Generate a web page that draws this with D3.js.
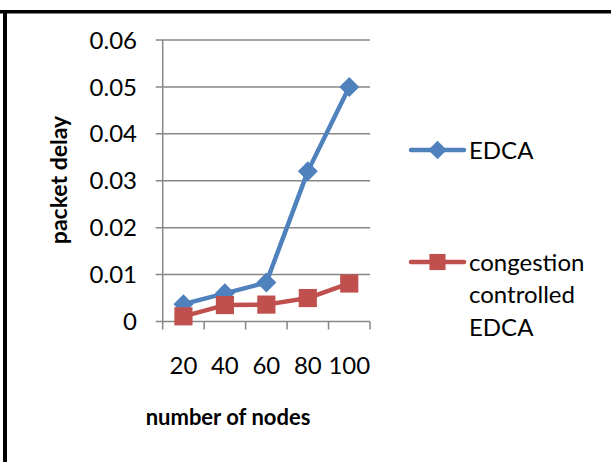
<!DOCTYPE html>
<html>
<head>
<meta charset="utf-8">
<script src="https://cdn.jsdelivr.net/npm/d3@7"></script>
<style>
  html, body { margin: 0; padding: 0; background: #fff; }
  svg { display: block; }
  text { font-family: Lato, "Open Sans", sans-serif; fill: #000; }
</style>
</head>
<body>
<svg id="chart" width="611" height="462"></svg>
<script>
// Packet delay vs. number of nodes
const nodes = ["20", "40", "60", "80", "100"];
const edcaDelay = [0.0037, 0.006, 0.0083, 0.032, 0.05];
const congestionDelay = [0.0011, 0.0035, 0.0036, 0.005, 0.0081];
const yTicks = [0, 0.01, 0.02, 0.03, 0.04, 0.05, 0.06];
const yTickLabels = ["0", "0.01", "0.02", "0.03", "0.04", "0.05", "0.06"];
const seriesNames = ["EDCA", "congestion controlled EDCA"];
const seriesColors = ["#4F81BD", "#C0504D"];

const svg = d3.select("#chart");

// frame: top and left rules
svg.append("rect").attr("x", 0).attr("y", 10).attr("width", 611).attr("height", 3.5).attr("fill", "#000");
svg.append("rect").attr("x", 3).attr("y", 10).attr("width", 4).attr("height", 452).attr("fill", "#000");

const plot = { left: 162.7, right: 370, top: 40, bottom: 321.5 };

const x = d3.scaleBand().domain(nodes).range([plot.left, plot.right]).padding(0);
const y = d3.scaleLinear().domain([0, 0.06]).range([plot.bottom, plot.top]);

const gridColor = "#878787";

// horizontal gridlines (with left tick stubs)
svg.append("g").selectAll("line").data(yTicks).join("line")
  .attr("x1", plot.left - 7).attr("x2", plot.right)
  .attr("y1", d => y(d)).attr("y2", d => y(d))
  .attr("stroke", gridColor).attr("stroke-width", 1.5);

// y axis line
svg.append("line")
  .attr("x1", plot.left).attr("x2", plot.left)
  .attr("y1", plot.top).attr("y2", plot.bottom)
  .attr("stroke", gridColor).attr("stroke-width", 1.5);

// x tick marks at category boundaries
const bounds = nodes.map(d => x(d)).concat([x(nodes[nodes.length - 1]) + x.bandwidth()]);
svg.append("g").selectAll("line").data(bounds).join("line")
  .attr("x1", d => d).attr("x2", d => d)
  .attr("y1", plot.bottom).attr("y2", plot.bottom + 8)
  .attr("stroke", gridColor).attr("stroke-width", 1.5);

// y tick labels
svg.append("g").selectAll("text").data(yTicks).join("text")
  .attr("x", 137).attr("y", d => y(d))
  .attr("dy", "0.36em")
  .attr("text-anchor", "end")
  .attr("font-size", 24)
  .text((d, i) => yTickLabels[i]);

// x tick labels
svg.append("g").selectAll("text").data(nodes).join("text")
  .attr("x", d => x(d) + x.bandwidth() / 2).attr("y", 365)
  .attr("dy", "0.36em")
  .attr("text-anchor", "middle")
  .attr("font-size", 24)
  .text(d => d);

// axis titles
svg.append("text")
  .attr("transform", "translate(59,180) rotate(-90)")
  .attr("dy", "0.36em")
  .attr("text-anchor", "middle")
  .attr("font-size", 23).attr("font-weight", "bold")
  .text("packet delay");

svg.append("text")
  .attr("x", 228).attr("y", 417)
  .attr("dy", "0.36em")
  .attr("text-anchor", "middle")
  .attr("font-size", 22).attr("font-weight", "bold")
  .text("number of nodes");

const cx = d => x(d) + x.bandwidth() / 2;
const line = d3.line().x((d, i) => cx(nodes[i])).y(d => y(d));

const diamond = d3.symbol().type(d3.symbolSquare).size(200);
const square = d3.symbol().type(d3.symbolSquare).size(330);

// EDCA series
svg.append("path").datum(edcaDelay)
  .attr("d", line).attr("fill", "none")
  .attr("stroke", seriesColors[0]).attr("stroke-width", 4.5)
  .attr("stroke-linejoin", "round").attr("stroke-linecap", "round");
svg.append("g").selectAll("path").data(edcaDelay).join("path")
  .attr("d", diamond)
  .attr("transform", (d, i) => `translate(${cx(nodes[i])},${y(d)}) rotate(45)`)
  .attr("fill", seriesColors[0]);

// congestion controlled EDCA series
svg.append("path").datum(congestionDelay)
  .attr("d", line).attr("fill", "none")
  .attr("stroke", seriesColors[1]).attr("stroke-width", 4.5)
  .attr("stroke-linejoin", "round").attr("stroke-linecap", "round");
svg.append("g").selectAll("path").data(congestionDelay).join("path")
  .attr("d", square)
  .attr("transform", (d, i) => `translate(${cx(nodes[i])},${y(d)})`)
  .attr("fill", seriesColors[1]);

// legend
const legendRows = [
  { y: 150, lines: ["EDCA"], marker: diamond, rot: 45, color: seriesColors[0] },
  { y: 262, lines: ["congestion", "controlled", "EDCA"], marker: square, rot: 0, color: seriesColors[1] }
];
const lg = svg.append("g");
legendRows.forEach(r => {
  lg.append("line")
    .attr("x1", 411).attr("x2", 464)
    .attr("y1", r.y).attr("y2", r.y)
    .attr("stroke", r.color).attr("stroke-width", 4.5)
    .attr("stroke-linecap", "round");
  lg.append("path")
    .attr("d", r.rot ? d3.symbol().type(d3.symbolSquare).size(170)() : d3.symbol().type(d3.symbolSquare).size(260)())
    .attr("transform", `translate(437.5,${r.y}) rotate(${r.rot})`)
    .attr("fill", r.color);
  r.lines.forEach((t, k) => {
    lg.append("text")
      .attr("x", 469).attr("y", r.y + k * 32.5)
      .attr("dy", "0.36em")
      .attr("font-size", 24)
      .text(t);
  });
});
</script>
</body>
</html>
